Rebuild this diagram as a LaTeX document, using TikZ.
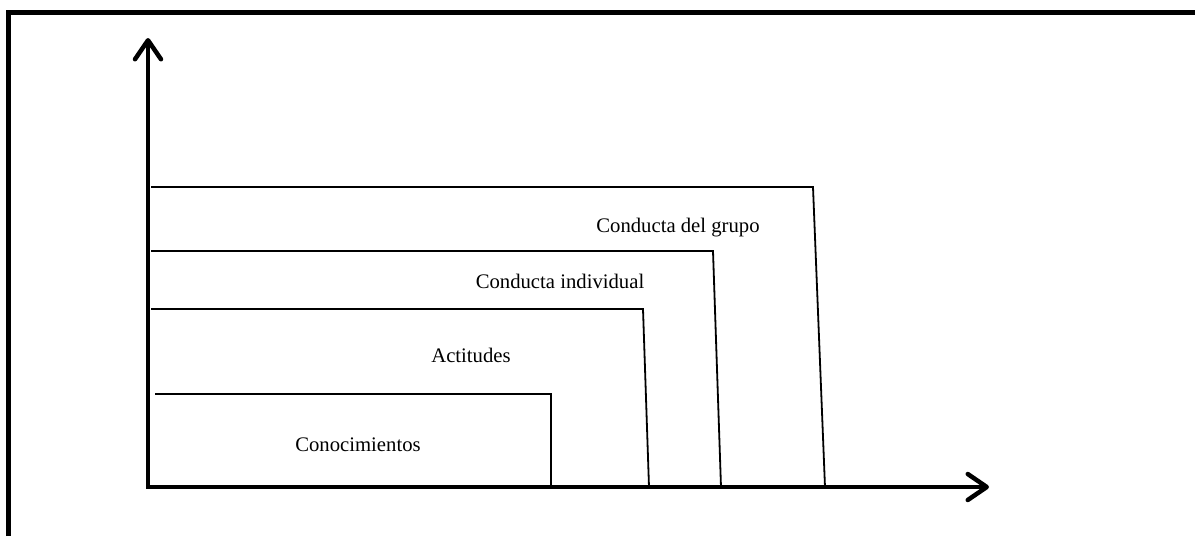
\documentclass[tikz,border=0pt]{standalone}
\usepackage{fontspec}
\setmainfont{Liberation Serif}
\usetikzlibrary{arrows.meta}

\begin{document}
\begin{tikzpicture}[x=1pt,y=-1pt,
        axis/.style={line width=4.5pt,line join=miter,
            {Straight Barb[length=19pt,width=26pt,line cap=round,line join=round]}-{Straight Barb[length=19pt,width=26pt,line cap=round,line join=round]}},
        level/.style={line width=1.8pt},
        lbl/.style={font=\fontsize{20.7}{24}\selectfont,inner sep=0pt,anchor=base}]

    \useasboundingbox (0,0) rectangle (1195,536);

    % Frame (only top and left edges are visible)
    \coordinate (f1) at (8,536);
    \coordinate (f2) at (8,12);
    \coordinate (f3) at (1195,12);
    \draw[line width=5pt] (f1) -- (f2) -- (f3);

    % Axes
    \coordinate (o) at (148,487);
    \coordinate (ytip) at (148,38);
    \coordinate (xtip) at (989,487);

    % Level 1: Conocimientos
    \coordinate (c1s) at (155,394);
    \coordinate (c1c) at (551,394);
    \coordinate (c1f) at (551,487);
    \draw[level] (c1s) -- (c1c) -- (c1f);

    % Level 2: Actitudes
    \coordinate (c2s) at (151,309);
    \coordinate (c2c) at (643,309);
    \coordinate (c2f) at (649,487);
    \draw[level] (c2s) -- (c2c) -- (c2f);

    % Level 3: Conducta individual
    \coordinate (c3s) at (151,251);
    \coordinate (c3c) at (713,251);
    \coordinate (c3f) at (721,487);
    \draw[level] (c3s) -- (c3c) -- (c3f);

    % Level 4: Conducta del grupo
    \coordinate (c4s) at (151,187);
    \coordinate (c4c) at (813,187);
    \coordinate (c4f) at (825,487);
    \draw[level] (c4s) -- (c4c) -- (c4f);

    \draw[axis] (ytip) -- (o) -- (xtip);

    % Labels
    \node[lbl] (conoc) at (358,451) {Conocimientos};
    \node[lbl] (actit) at (471,362) {Actitudes};
    \node[lbl] (indiv) at (560,288) {Conducta individual};
    \node[lbl] (grupo) at (678,232) {Conducta del grupo};

\end{tikzpicture}
\end{document}
